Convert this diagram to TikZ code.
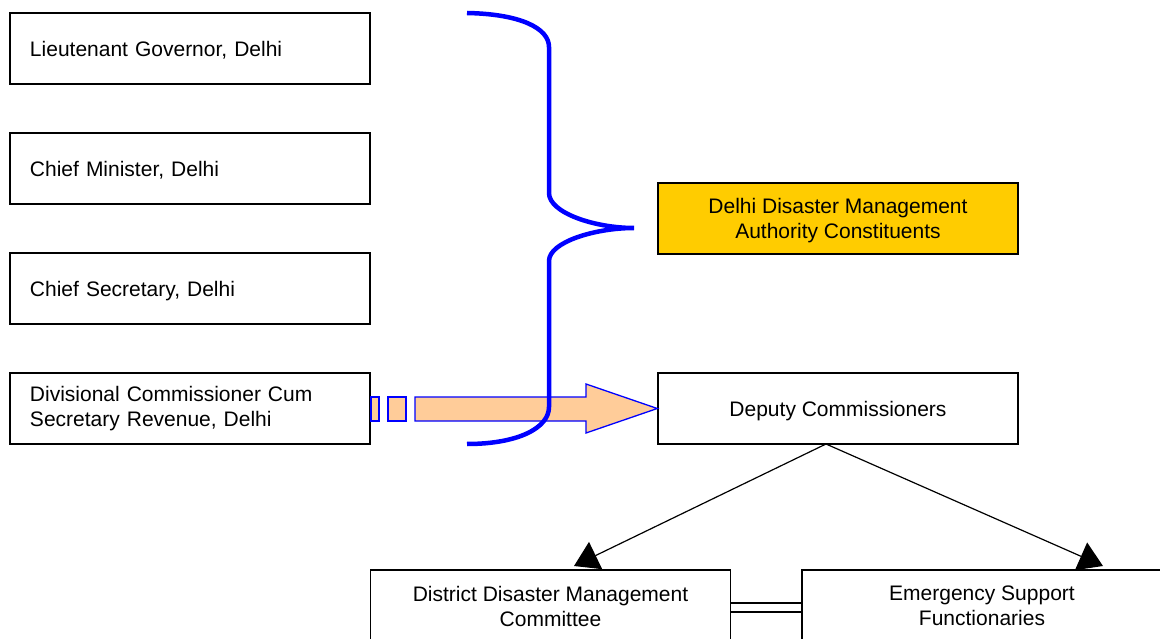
\documentclass[tikz,border=0pt]{standalone}
\usepackage{fontspec}
\setmainfont{Liberation Sans}
\usetikzlibrary{arrows.meta}
\definecolor{gold}{HTML}{FFCC00}
\definecolor{peach}{HTML}{FFCC99}
\definecolor{bblue}{HTML}{0000FF}
\begin{document}
\begin{tikzpicture}[x=1pt,y=-1pt,
  box/.style={draw=black,line width=1.4pt,minimum width=360pt,minimum height=71pt,inner sep=0pt,font=\fontsize{21}{25}\selectfont},
  lbox/.style={box,align=left,text width=320pt},
  cbox/.style={box,align=center,text depth=0pt},
  oneline/.style={text depth=0pt},
  conn/.style={line width=1.2pt,-{Triangle[length=24pt,width=30pt]}},
  bracestyle/.style={draw=bblue,line width=4.5pt},
  blockarrow/.style={draw=bblue,line width=1.3pt,fill=peach},
  dblline/.style={line width=1.4pt,double distance=7.6pt}]
\useasboundingbox (0,0) rectangle (1160,639);
\clip (0,0) rectangle (1160,639);
\fill[white] (0,0) rectangle (1160,639);

\node[lbox,oneline] (lg) at (190,48.5) {Lieutenant Governor, Delhi};
\node[lbox,oneline] (cm) at (190,168.5) {Chief Minister, Delhi};
\node[lbox,oneline] (cs) at (190,288.5) {Chief Secretary, Delhi};
\node[lbox] (dc) at (190,408.5) {Divisional Commissioner Cum\\Secretary Revenue, Delhi};

\node[cbox,fill=gold] (ddma) at (838,218.5) {Delhi Disaster Management\\Authority Constituents};
\node[cbox] (depc) at (838,408.5) {Deputy Commissioners};

\node[cbox,minimum height=72pt] (ddmc) at (550.5,606) {District Disaster Management\\Committee};
\node[cbox,minimum height=72pt] (esf) at (982,606) {Emergency Support\\Functionaries};

% block arrow from dc to depc
\filldraw[blockarrow] (371,397) rectangle (379,421);
\filldraw[blockarrow] (388,397) rectangle (406,421);
\filldraw[blockarrow] (415,397) -- (586,397) -- (586,384) -- (depc.west) -- (586,433) -- (586,421) -- (415,421) -- cycle;

% brace
\draw[bracestyle] (467,13) .. controls (520,14) and (549,28) .. (549,47) -- (549,193)
  .. controls (549,213) and (595,228) .. (634,228)
  .. controls (595,228) and (549,242) .. (549,261) -- (549,407)
  .. controls (549,428) and (518,444) .. (467,444);

% connectors
\coordinate (split) at (826,444);
\coordinate (lt) at (574,566);
\coordinate (rt) at (1103,566);
\draw[conn] (split) -- (lt);
\draw[conn] (split) -- (rt);
\draw[dblline] (ddmc.east) ++(0,1.5) coordinate (d1) -- (d1 -| esf.west);
\end{tikzpicture}
\end{document}
